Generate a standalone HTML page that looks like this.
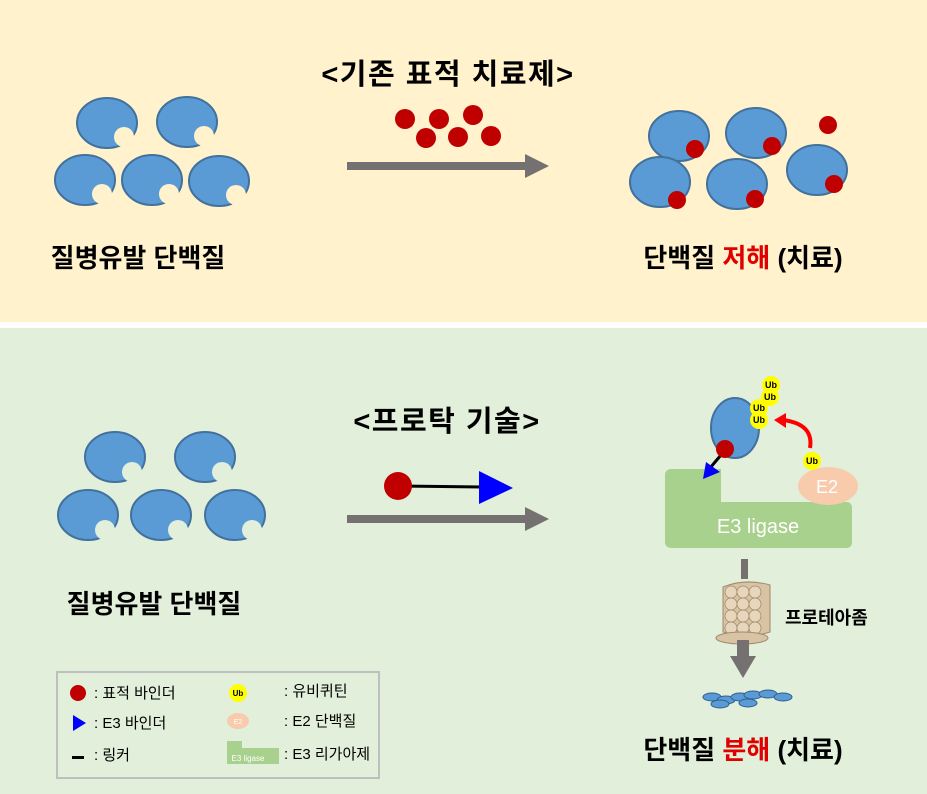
<!DOCTYPE html>
<html><head><meta charset="utf-8"><style>
html,body{margin:0;padding:0;width:927px;height:794px;overflow:hidden;background:#fff}
svg{display:block}
text{font-family:"Liberation Sans","Noto Sans CJK KR",sans-serif}
</style></head><body>
<svg width="927" height="794" viewBox="0 0 927 794" xmlns="http://www.w3.org/2000/svg">
<defs>
<g id="pt"><ellipse cx="0" cy="0" rx="30" ry="25" fill="#5B9BD5" stroke="#41719C" stroke-width="2"/></g>
</defs>
<rect x="0" y="0" width="927" height="322" fill="#FFF2CC"/>
<rect x="0" y="328" width="927" height="466" fill="#E2EFDA"/>

<g>
<use href="#pt" x="107" y="123"/><circle cx="124" cy="137" r="10" fill="#FFF2CC"/>
<use href="#pt" x="187" y="122"/><circle cx="204" cy="136" r="10" fill="#FFF2CC"/>
<use href="#pt" x="85" y="180"/><circle cx="102" cy="194" r="10" fill="#FFF2CC"/>
<use href="#pt" x="152" y="180"/><circle cx="169" cy="194" r="10" fill="#FFF2CC"/>
<use href="#pt" x="219" y="181"/><circle cx="236" cy="195" r="10" fill="#FFF2CC"/>
</g>
<text x="138" y="267" font-size="26" font-weight="bold" text-anchor="middle" fill="#000">질병유발 단백질</text>
<text x="448" y="84" font-size="29" font-weight="bold" text-anchor="middle" fill="#000" letter-spacing="1.5">&lt;기존 표적 치료제&gt;</text>
<g fill="#C00000">
<circle cx="405" cy="119" r="10"/><circle cx="439" cy="119" r="10"/><circle cx="473" cy="115" r="10"/>
<circle cx="426" cy="138" r="10"/><circle cx="458" cy="137" r="10"/><circle cx="491" cy="136" r="10"/>
</g>
<rect x="347" y="162" width="180" height="8" fill="#767171"/>
<polygon points="525,154 549,166 525,178" fill="#767171"/>

<g>
<use href="#pt" x="679" y="136"/><circle cx="695" cy="149" r="9" fill="#C00000"/>
<use href="#pt" x="756" y="133"/><circle cx="772" cy="146" r="9" fill="#C00000"/>
<circle cx="828" cy="125" r="9" fill="#C00000"/>
<use href="#pt" x="660" y="182"/><circle cx="677" cy="200" r="9" fill="#C00000"/>
<use href="#pt" x="737" y="184"/><circle cx="755" cy="199" r="9" fill="#C00000"/>
<use href="#pt" x="817" y="170"/><circle cx="834" cy="184" r="9" fill="#C00000"/>
</g>
<text x="743" y="267" font-size="26" font-weight="bold" text-anchor="middle" fill="#000">단백질 <tspan fill="#E00000">저해</tspan> (치료)</text>

<g>
<use href="#pt" x="115" y="457"/><circle cx="132" cy="472" r="10" fill="#E2EFDA"/>
<use href="#pt" x="205" y="457"/><circle cx="222" cy="472" r="10" fill="#E2EFDA"/>
<use href="#pt" x="88" y="515"/><circle cx="105" cy="530" r="10" fill="#E2EFDA"/>
<use href="#pt" x="161" y="515"/><circle cx="178" cy="530" r="10" fill="#E2EFDA"/>
<use href="#pt" x="235" y="515"/><circle cx="252" cy="530" r="10" fill="#E2EFDA"/>
</g>
<text x="154" y="613" font-size="26" font-weight="bold" text-anchor="middle" fill="#000">질병유발 단백질</text>
<text x="447" y="431" font-size="29" font-weight="bold" text-anchor="middle" fill="#000" letter-spacing="1.5">&lt;프로탁 기술&gt;</text>
<line x1="400" y1="486" x2="482" y2="487" stroke="#000" stroke-width="3"/>
<circle cx="398" cy="486" r="14" fill="#C00000"/>
<polygon points="479,471 513,488 479,504" fill="#0000FF"/>
<rect x="347" y="515" width="180" height="8" fill="#767171"/>
<polygon points="525,507 549,519 525,531" fill="#767171"/>

<path d="M672,469 H721 V502 H846 Q852,502 852,508 V542 Q852,548 846,548 H672 Q665,548 665,542 V475 Q665,469 672,469Z" fill="#A9D18E"/>
<text x="758" y="533" font-size="20" text-anchor="middle" fill="#fff">E3 ligase</text>
<ellipse cx="828" cy="486" rx="30" ry="19" fill="#F8CBAD"/>
<text x="827" y="493" font-size="18" text-anchor="middle" fill="#fff">E2</text>
<ellipse cx="735" cy="428" rx="24" ry="30" fill="#5B9BD5" stroke="#41719C" stroke-width="2"/>
<line x1="721" y1="455" x2="710" y2="468" stroke="#000" stroke-width="3"/>
<polygon points="703,479 706,462 720,472" fill="#0000FF"/>
<circle cx="725" cy="449" r="9" fill="#C00000"/>
<g font-size="9" font-weight="bold" text-anchor="middle" fill="#000">
<circle cx="771" cy="385" r="9" fill="#FFFF00"/><text x="771" y="388">Ub</text>
<circle cx="770" cy="397" r="9" fill="#FFFF00"/><text x="770" y="400">Ub</text>
<circle cx="759" cy="408" r="9" fill="#FFFF00"/><text x="759" y="411">Ub</text>
<circle cx="759" cy="420" r="9" fill="#FFFF00"/><text x="759" y="423">Ub</text>
<circle cx="812" cy="461" r="9" fill="#FFFF00"/><text x="812" y="464">Ub</text>
</g>
<path d="M810,448 Q814,424 783,420" fill="none" stroke="#FF0000" stroke-width="4"/>
<polygon points="774,420 786,413 786,428" fill="#FF0000"/>
<rect x="741" y="559" width="7" height="20" fill="#767171"/>
<g>
<path d="M723,587 Q745,578 770,585 L770,632 Q745,640 723,632Z" fill="#D9C3A5" stroke="#A08A6A"/>
<g fill="#E8D6BC" stroke="#A08A6A" stroke-width="0.8">
<circle cx="731" cy="592" r="6"/><circle cx="743" cy="592" r="6"/><circle cx="755" cy="592" r="6"/>
<circle cx="731" cy="604" r="6"/><circle cx="743" cy="604" r="6"/><circle cx="755" cy="604" r="6"/>
<circle cx="731" cy="616" r="6"/><circle cx="743" cy="616" r="6"/><circle cx="755" cy="616" r="6"/>
<circle cx="731" cy="628" r="6"/><circle cx="743" cy="628" r="6"/><circle cx="755" cy="628" r="6"/>
</g>
<ellipse cx="742" cy="638" rx="26" ry="6" fill="#D9C3A5" stroke="#A08A6A"/>
</g>
<rect x="737" y="640" width="12" height="20" fill="#767171"/>
<polygon points="730,656 756,656 743,678" fill="#767171"/>
<g fill="#5B9BD5" stroke="#2E5F8F" stroke-width="1">
<ellipse cx="712" cy="697" rx="9" ry="4"/><ellipse cx="726" cy="700" rx="9" ry="4"/><ellipse cx="740" cy="697" rx="9" ry="4"/>
<ellipse cx="753" cy="695" rx="9" ry="4"/><ellipse cx="768" cy="694" rx="9" ry="4"/><ellipse cx="783" cy="697" rx="9" ry="4"/>
<ellipse cx="720" cy="704" rx="9" ry="4"/><ellipse cx="748" cy="703" rx="9" ry="4"/>
</g>
<text x="785" y="624" font-size="18" font-weight="bold" fill="#000">프로테아좀</text>
<text x="743" y="759" font-size="26" font-weight="bold" text-anchor="middle" fill="#000">단백질 <tspan fill="#E00000">분해</tspan> (치료)</text>

<rect x="57" y="672" width="322" height="106" fill="none" stroke="#BFBFBF" stroke-width="2"/>
<circle cx="78" cy="693" r="8" fill="#C00000"/>
<text x="94" y="698" font-size="15" fill="#000">: 표적 바인더</text>
<polygon points="73,715 86,723 73,731" fill="#0000FF"/>
<text x="94" y="728" font-size="15" fill="#000">: E3 바인더</text>
<rect x="72" y="756" width="12" height="3" fill="#000"/>
<text x="94" y="760" font-size="15" fill="#000">: 링커</text>
<circle cx="238" cy="693" r="9" fill="#FFFF00"/>
<text x="238" y="696" font-size="8" font-weight="bold" text-anchor="middle" fill="#000">Ub</text>
<text x="284" y="696" font-size="15" fill="#000">: 유비퀴틴</text>
<ellipse cx="238" cy="721" rx="11" ry="8" fill="#F8CBAD"/>
<text x="238" y="724" font-size="7" text-anchor="middle" fill="#fff">E2</text>
<text x="284" y="726" font-size="15" fill="#000">: E2 단백질</text>
<path d="M227,741 H242 V748 H279 V764 H227Z" fill="#A9D18E"/>
<text x="248" y="761" font-size="8" text-anchor="middle" fill="#fff">E3 ligase</text>
<text x="284" y="759" font-size="15" fill="#000">: E3 리가아제</text>
</svg>
</body></html>
